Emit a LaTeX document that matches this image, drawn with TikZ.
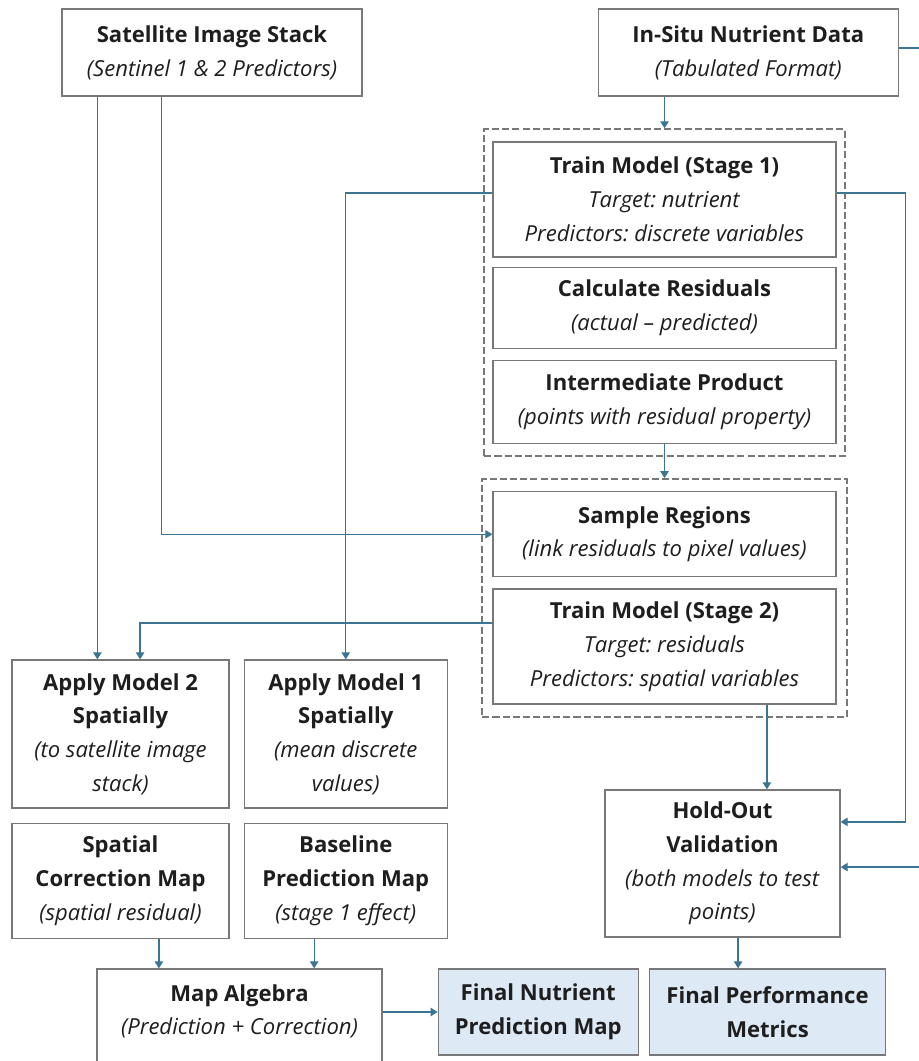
\documentclass[tikz,border=0pt]{standalone}
\usepackage{fontspec}
\setmainfont{Open Sans}
\frenchspacing
\usetikzlibrary{arrows.meta, positioning, calc, fit}
\definecolor{flowblue}{RGB}{58,118,148}
\definecolor{boxgray}{RGB}{120,120,120}
\definecolor{finalfill}{RGB}{222,233,246}
\definecolor{txtgray}{RGB}{30,30,30}
\tikzstyle{proc} = [rectangle, draw=boxgray, fill=white, line width=0.9pt, align=center, inner sep=0pt, text=txtgray, font=\fontsize{15.7}{24}\selectfont]
\tikzstyle{final} = [proc, fill=finalfill]
\tikzstyle{group} = [rectangle, draw=boxgray, dash pattern=on 5pt off 2.2pt, line width=1.5pt]
\tikzstyle{arrow} = [flowblue, line width=0.9pt, -{Triangle[length=5pt,width=6pt]}]

\begin{document}
\begin{tikzpicture}
    \useasboundingbox (0,0) rectangle (22.975,-26.525);

    % Inputs (top row)
    \node (sat) [proc, minimum width=7.5cm, minimum height=2.175cm] at (5.3,-1.3125) {\textbf{Satellite Image Stack}\\\textit{(Sentinel 1 \& 2 Predictors)}};
    \node (insitu) [proc, minimum width=7.5cm, minimum height=2.175cm, right=5.875cm of sat] {\textbf{In-Situ Nutrient Data}\\\textit{(Tabulated Format)}};

    % Stage 1 (right column)
    \node (train1) [proc, minimum width=8.575cm, minimum height=2.875cm] at (16.6125,-4.9875) {\textbf{Train Model (Stage 1)}\\\textit{Target: nutrient}\\\textit{Predictors: discrete variables}};
    \node (calc) [proc, minimum width=8.575cm, minimum height=2.025cm, below=0.225cm of train1] {\textbf{Calculate Residuals}\\\textit{(actual -- predicted)}};
    \node (inter) [proc, minimum width=8.575cm, minimum height=2.075cm, below=0.275cm of calc] {\textbf{Intermediate Product}\\\textit{(points with residual property)}};

    % Stage 2 (right column)
    \node (sample) [proc, minimum width=8.575cm, minimum height=2.125cm, below=1.175cm of inter] {\textbf{Sample Regions}\\\textit{(link residuals to pixel values)}};
    \node (train2) [proc, minimum width=8.575cm, minimum height=2.875cm, below=0.275cm of sample] {\textbf{Train Model (Stage 2)}\\\textit{Target: residuals}\\\textit{Predictors: spatial variables}};

    \node (grp1) [group, inner xsep=0.2cm, inner ysep=0.3cm, fit=(train1)(calc)(inter)] {};
    \node (grp2) [group, inner xsep=0.25cm, inner ysep=0.3cm, fit=(sample)(train2)] {};

    % Spatial application (left columns)
    \node (apply2) [proc, minimum width=5.425cm, minimum height=3.7cm] at (3.0125,-18.35) {\textbf{Apply Model 2}\\\textbf{Spatially}\\\textit{(to satellite image}\\\textit{stack)}};
    \node (apply1) [proc, minimum width=5.075cm, minimum height=3.7cm, right=0.35cm of apply2] {\textbf{Apply Model 1}\\\textbf{Spatially}\\\textit{(mean discrete}\\\textit{values)}};
    \node (spcorr) [proc, minimum width=5.425cm, minimum height=2.875cm, below=0.35cm of apply2] {\textbf{Spatial}\\\textbf{Correction Map}\\\textit{(spatial residual)}};
    \node (baseline) [proc, minimum width=5.075cm, minimum height=2.875cm, below=0.35cm of apply1] {\textbf{Baseline}\\\textbf{Prediction Map}\\\textit{(stage 1 effect)}};

    % Validation and outputs
    \node (holdout) [proc, minimum width=5.875cm, minimum height=3.675cm] at (18.0625,-21.5875) {\textbf{Hold-Out}\\\textbf{Validation}\\\textit{(both models to test}\\\textit{points)}};
    \node (mapalg) [proc, minimum width=7.125cm, minimum height=2.875cm] at (5.9875,-25.6625) {\textbf{Map Algebra}\\\textit{(Prediction + Correction)}\\\mbox{}};
    \node (finalmap) [final, minimum width=5cm, minimum height=2.15cm, right=1.375cm of mapalg.north east, anchor=north west] {\textbf{Final Nutrient}\\\textbf{Prediction Map}};
    \node (finalperf) [final, minimum width=5.9cm, minimum height=2.15cm, right=0.25cm of finalmap] {\textbf{Final Performance}\\\textbf{Metrics}};

    % Arrows: inputs
    \draw [arrow] (insitu.south -| train1.north) -- (grp1.north);
    \draw [arrow] (inter.south) -- (grp2.north);
    \draw [arrow] ($(sat.south west)+(0.9,0)$) coordinate (s1) -- (s1 |- apply2.north);
    \draw [arrow] ($(sat.south west)+(2.5,0)$) |- (sample.west);

    % Arrows: models to spatial application
    \draw [arrow] ([yshift=0.16cm]train1.west) -| (apply1.north);
    \draw [arrow] ([yshift=0.59cm]train2.west) -| ($(apply2.north)+(0.49,0)$);

    % Arrows: validation
    \draw [arrow] ([xshift=2.56cm]train2.south) coordinate (t2) -- (t2 |- holdout.north);
    \draw [arrow] ([yshift=0.16cm]train1.east) -- ++(1.725,0) |- ([yshift=1.04cm]holdout.east);
    \draw [arrow] ([yshift=0.11cm]insitu.east) -- ++(0.85,0) |- ([yshift=-0.09cm]holdout.east);

    % Arrows: maps to outputs
    \draw [arrow] ([xshift=0.96cm]spcorr.south) coordinate (a1) -- (a1 |- mapalg.north);
    \draw [arrow] ([xshift=-0.79cm]baseline.south) coordinate (a2) -- (a2 |- mapalg.north);
    \draw [arrow] (mapalg.east |- finalmap.west) -- (finalmap.west);
    \draw [arrow] ([xshift=0.39cm]holdout.south) coordinate (h1) -- (h1 |- finalperf.north);

\end{tikzpicture}
\end{document}
